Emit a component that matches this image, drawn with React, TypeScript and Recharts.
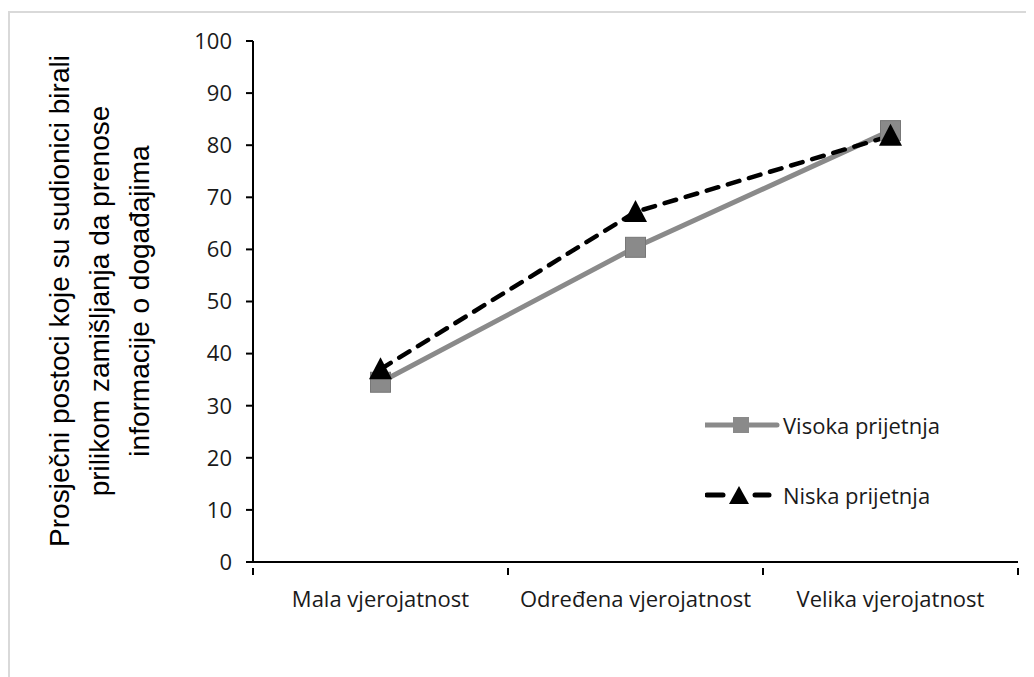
import React from "react";
import { LineChart, Line, XAxis, YAxis, Legend } from "recharts";

// categories and series values
const categories = ["Mala vjerojatnost", "Određena vjerojatnost", "Velika vjerojatnost"];
const visokaValues = [34.5, 60.4, 82.8];
const niskaValues = [37.0, 67.2, 81.8];
const yTicks = [0, 10, 20, 30, 40, 50, 60, 70, 80, 90, 100];
const titleLines = [
    "Prosječni postoci koje su sudionici birali",
    "prilikom zamišljanja da prenose",
    "informacije o događajima"
];

const data = categories.map((name, i) => ({
    name,
    visoka: visokaValues[i],
    niska: niskaValues[i]
}));

const W = 1026;
const H = 669;
const margin = { top: 33, right: 16, bottom: 75, left: 185 };
const yAxisWidth = 60;
const plotLeft = margin.left + yAxisWidth;
const plotWidth = W - margin.right - plotLeft;
const halfBand = plotWidth / categories.length / 2;

const tickFont = "'Open Sans', sans-serif";
const GRAY = "#8a8a8a";

const SquareDot = (props: any) => {
    const { cx, cy, index } = props;
    if (cx == null || cy == null) return null;
    return (
        <rect
            key={"sq" + index}
            x={cx - 10}
            y={cy - 10}
            width={20}
            height={20}
            fill={GRAY}
            stroke="#777777"
            strokeWidth={1}
        />
    );
};

const TriangleDot = (props: any) => {
    const { cx, cy, index } = props;
    if (cx == null || cy == null) return null;
    return (
        <polygon
            key={"tr" + index}
            points={`${cx},${cy - 12} ${cx + 11.5},${cy + 10} ${cx - 11.5},${cy + 10}`}
            fill="#000"
        />
    );
};

// category label plus tick marks on the band boundaries
const CategoryTick = (props: any) => {
    const { x, y, payload, index } = props;
    const axisY = y - 23;
    return (
        <g>
            <line x1={x - halfBand} x2={x - halfBand} y1={axisY} y2={axisY + 7} stroke="#000" strokeWidth={2} />
            {index === categories.length - 1 && (
                <line x1={x + halfBand} x2={x + halfBand} y1={axisY} y2={axisY + 7} stroke="#000" strokeWidth={2} />
            )}
            <text
                x={x}
                y={y}
                dy="0.71em"
                textAnchor="middle"
                fill="#1a1a1a"
                fontSize={22}
                fontFamily={tickFont}
            >
                {payload.value}
            </text>
        </g>
    );
};

const YTitle = (props: any) => {
    const vb = props.viewBox || { x: 0, y: 0, height: 0 };
    const cy = 293;
    const xs = [vb.x - 124, vb.x - 84, vb.x - 44];
    return (
        <g>
            {titleLines.map((line, i) => (
                <text
                    key={line}
                    x={xs[i]}
                    y={cy}
                    transform={`rotate(-90 ${xs[i]} ${cy})`}
                    textAnchor="middle"
                    fontSize={28}
                    fontFamily="'Liberation Sans', Arial, sans-serif"
                    fill="#000"
                >
                    {line}
                </text>
            ))}
        </g>
    );
};

const LegendBox = () => (
    <div style={{ fontFamily: tickFont, fontSize: 22, color: "#1a1a1a" }}>
        <div style={{ display: "flex", alignItems: "center", height: 30 }}>
            <svg width={78} height={24}>
                <line x1={0} x2={72} y1={12} y2={12} stroke={GRAY} strokeWidth={5} strokeLinecap="round" />
                <rect x={28} y={4} width={16} height={16} fill={GRAY} />
            </svg>
            <span>Visoka prijetnja</span>
        </div>
        <div style={{ display: "flex", alignItems: "center", height: 30, marginTop: 40 }}>
            <svg width={78} height={24}>
                <line x1={2} x2={18} y1={12} y2={12} stroke="#000" strokeWidth={5} strokeLinecap="round" />
                <polygon points="34,3 44,21 24,21" fill="#000" />
                <line x1={50} x2={64} y1={12} y2={12} stroke="#000" strokeWidth={5} strokeLinecap="round" />
            </svg>
            <span>Niska prijetnja</span>
        </div>
    </div>
);

export default function App() {
    return (
        <div style={{ position: "relative", width: W, height: H }}>
            <div
                style={{
                    position: "absolute",
                    left: 0,
                    top: 3,
                    width: W,
                    height: H - 3,
                    borderLeft: "2px solid #d9d9d9",
                    borderTop: "2px solid #d9d9d9",
                    boxSizing: "border-box"
                }}
            />
            <LineChart width={W} height={H} data={data} margin={margin}>
                <XAxis
                    dataKey="name"
                    height={40}
                    padding={{ left: halfBand, right: halfBand }}
                    axisLine={{ stroke: "#000", strokeWidth: 2 }}
                    tickLine={false}
                    tick={<CategoryTick />}
                    tickMargin={23}
                    interval={0}
                />
                <YAxis
                    width={yAxisWidth}
                    domain={[0, 100]}
                    ticks={yTicks}
                    interval={0}
                    axisLine={{ stroke: "#000", strokeWidth: 2 }}
                    tickLine={{ stroke: "#000", strokeWidth: 2 }}
                    tickSize={7}
                    tickMargin={14}
                    tick={{ fill: "#1a1a1a", fontSize: 22, fontFamily: tickFont }}
                    label={<YTitle />}
                />
                <Legend
                    layout="vertical"
                    align="center"
                    verticalAlign="middle"
                    content={<LegendBox />}
                    wrapperStyle={{ position: "absolute", left: 697, top: 402, width: 300 }}
                />
                <Line
                    dataKey="visoka"
                    name="Visoka prijetnja"
                    stroke={GRAY}
                    strokeWidth={5}
                    dot={<SquareDot />}
                    activeDot={false}
                    isAnimationActive={false}
                />
                <Line
                    dataKey="niska"
                    name="Niska prijetnja"
                    stroke="#000"
                    strokeWidth={4.5}
                    strokeDasharray="12 10"
                    strokeLinecap="round"
                    dot={<TriangleDot />}
                    activeDot={false}
                    isAnimationActive={false}
                />
            </LineChart>
        </div>
    );
}
